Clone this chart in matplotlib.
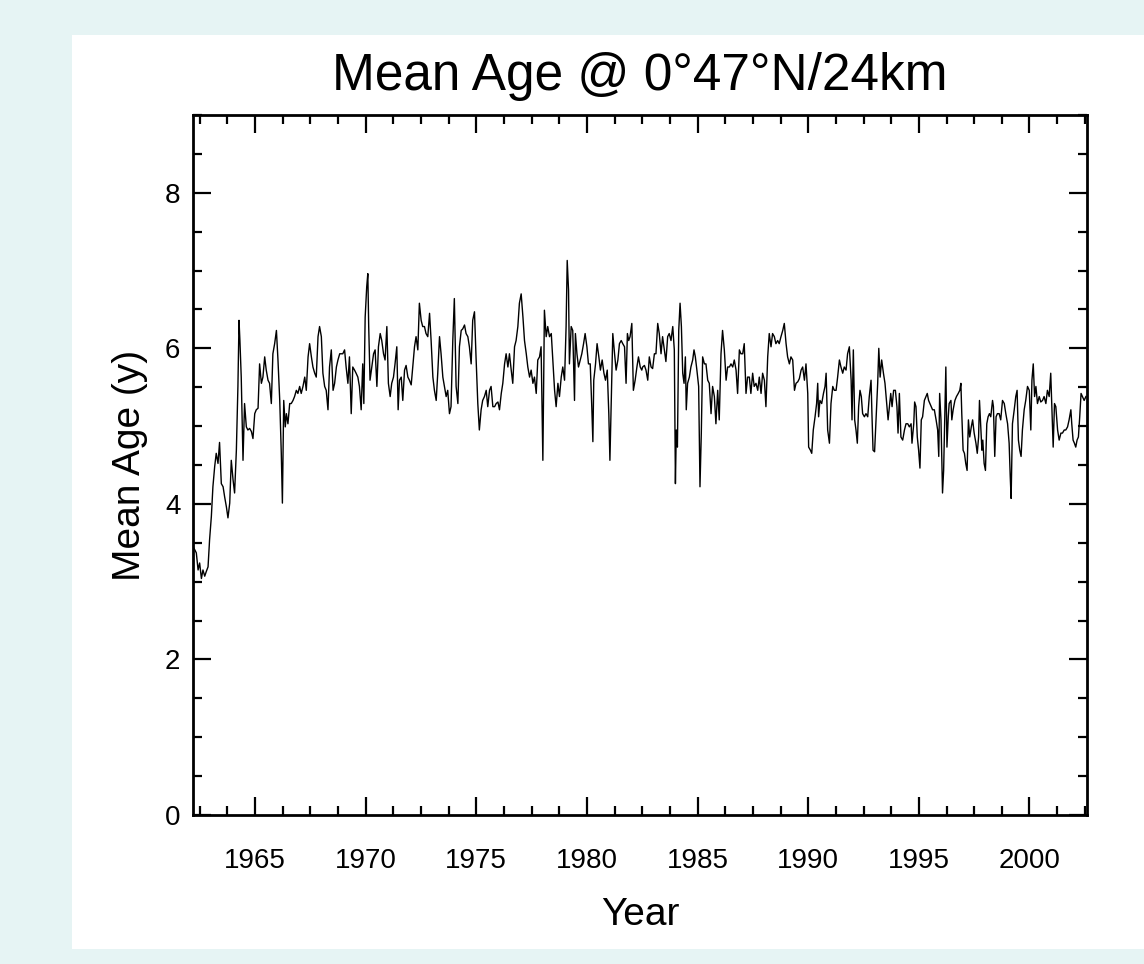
import numpy as np
import matplotlib
matplotlib.use('Agg')
import matplotlib.pyplot as plt
from matplotlib.patches import Rectangle
from matplotlib.ticker import MultipleLocator

plt.rcParams['font.family'] = ['Liberation Sans', 'DejaVu Sans']

### Mean age readings, split by stretch of years
years_1 = [1962.20, 1962.28, 1962.35, 1962.43, 1962.50, 1962.58, 1962.65, 1962.73, 1962.80, 1962.88,
           1962.95, 1963.03, 1963.10, 1963.18, 1963.25, 1963.33, 1963.40, 1963.48, 1963.56, 1963.63,
           1963.71, 1963.78, 1963.86, 1963.93, 1964.01, 1964.08, 1964.16, 1964.23, 1964.28, 1964.32,
           1964.38, 1964.46, 1964.53, 1964.61, 1964.68, 1964.76, 1964.84, 1964.91, 1964.99, 1965.06,
           1965.14, 1965.21, 1965.29, 1965.36, 1965.44, 1965.51, 1965.59, 1965.66, 1965.74, 1965.81,
           1965.89, 1965.97, 1966.04, 1966.12, 1966.19, 1966.24, 1966.30, 1966.37, 1966.42, 1966.49,
           1966.57, 1966.64, 1966.72, 1966.79, 1966.87, 1966.94, 1967.02, 1967.09, 1967.17, 1967.25,
           1967.32, 1967.40, 1967.47, 1967.55, 1967.62, 1967.70, 1967.77, 1967.85, 1967.92, 1968.00,
           1968.07, 1968.15, 1968.22, 1968.30, 1968.37, 1968.45, 1968.53, 1968.60, 1968.68, 1968.75,
           1968.83, 1968.90]
age_1 = [3.45, 3.41, 3.37, 3.15, 3.24, 3.04, 3.15, 3.07, 3.13, 3.19,
         3.54, 3.84, 4.22, 4.48, 4.65, 4.52, 4.79, 4.26, 4.22, 4.09,
         3.96, 3.82, 4.01, 4.56, 4.31, 4.14, 4.69, 5.51, 6.36, 6.10,
         5.63, 4.56, 5.29, 4.99, 4.95, 4.97, 4.93, 4.84, 5.16, 5.21,
         5.23, 5.80, 5.55, 5.63, 5.89, 5.72, 5.59, 5.55, 5.29, 5.93,
         6.06, 6.23, 5.85, 5.33, 4.65, 4.01, 5.33, 4.99, 5.16, 5.03,
         5.29, 5.29, 5.33, 5.38, 5.46, 5.42, 5.51, 5.42, 5.51, 5.63,
         5.46, 5.89, 6.06, 5.89, 5.76, 5.68, 5.63, 6.15, 6.28, 6.15,
         5.68, 5.51, 5.46, 5.21, 5.76, 5.98, 5.46, 5.55, 5.76, 5.85,
         5.93, 5.93]

years_2 = [1968.97, 1969.05, 1969.12, 1969.20, 1969.27, 1969.35, 1969.42, 1969.50, 1969.57, 1969.65,
           1969.72, 1969.80, 1969.87, 1969.92, 1969.98, 1970.05, 1970.10, 1970.14, 1970.20, 1970.28,
           1970.36, 1970.43, 1970.51, 1970.58, 1970.66, 1970.73, 1970.81, 1970.88, 1970.96, 1971.03,
           1971.11, 1971.18, 1971.26, 1971.33, 1971.41, 1971.47, 1971.53, 1971.61, 1971.68, 1971.76,
           1971.83, 1971.91, 1971.98, 1972.06, 1972.13, 1972.21, 1972.28, 1972.36, 1972.43, 1972.51,
           1972.58, 1972.66, 1972.73, 1972.81, 1972.89, 1972.96, 1973.04, 1973.11, 1973.19, 1973.26,
           1973.34, 1973.41, 1973.49, 1973.56, 1973.64, 1973.71, 1973.79, 1973.86, 1973.94, 1974.01,
           1974.09, 1974.17, 1974.24, 1974.32, 1974.39, 1974.47, 1974.54, 1974.62, 1974.69, 1974.77,
           1974.84, 1974.92, 1974.99, 1975.07, 1975.14, 1975.22, 1975.29, 1975.37, 1975.45, 1975.52,
           1975.60, 1975.67]
age_2 = [5.93, 5.98, 5.76, 5.55, 5.89, 5.16, 5.76, 5.72, 5.68, 5.63,
         5.51, 5.21, 5.80, 5.29, 6.40, 6.79, 6.96, 6.28, 5.59, 5.76,
         5.93, 5.98, 5.51, 6.02, 6.19, 6.10, 5.93, 5.85, 6.28, 5.55,
         5.38, 5.55, 5.63, 5.80, 6.02, 5.21, 5.59, 5.63, 5.33, 5.72,
         5.78, 5.63, 5.59, 5.53, 5.76, 6.02, 6.15, 5.98, 6.58, 6.36,
         6.28, 6.28, 6.19, 6.15, 6.45, 6.10, 5.63, 5.46, 5.33, 5.68,
         6.15, 5.93, 5.63, 5.51, 5.38, 5.46, 5.16, 5.25, 6.10, 6.64,
         5.51, 5.29, 6.02, 6.23, 6.25, 6.30, 6.19, 6.15, 6.02, 5.80,
         6.36, 6.47, 5.89, 5.29, 4.95, 5.21, 5.33, 5.38, 5.46, 5.25,
         5.46, 5.51]

years_3 = [1975.75, 1975.83, 1975.90, 1975.98, 1976.05, 1976.13, 1976.20, 1976.28, 1976.35, 1976.43,
           1976.50, 1976.58, 1976.65, 1976.73, 1976.80, 1976.88, 1976.95, 1977.03, 1977.11, 1977.18,
           1977.26, 1977.33, 1977.41, 1977.48, 1977.56, 1977.63, 1977.71, 1977.78, 1977.86, 1977.93,
           1978.01, 1978.08, 1978.16, 1978.23, 1978.31, 1978.39, 1978.46, 1978.54, 1978.61, 1978.69,
           1978.76, 1978.84, 1978.91, 1978.99, 1979.06, 1979.11, 1979.17, 1979.21, 1979.29, 1979.36,
           1979.44, 1979.48, 1979.55, 1979.62, 1979.70, 1979.77, 1979.85, 1979.92, 1980.00, 1980.07,
           1980.15, 1980.22, 1980.27, 1980.31, 1980.39, 1980.46, 1980.54, 1980.61, 1980.69, 1980.77,
           1980.84, 1980.92, 1980.99, 1981.04, 1981.10, 1981.17, 1981.25, 1981.32, 1981.40, 1981.47,
           1981.55, 1981.62, 1981.70, 1981.77, 1981.83, 1981.89, 1981.95, 1982.03, 1982.10, 1982.18,
           1982.26, 1982.33, 1982.41, 1982.48]
age_3 = [5.25, 5.25, 5.29, 5.31, 5.21, 5.42, 5.55, 5.80, 5.93, 5.76,
         5.93, 5.72, 5.55, 6.02, 6.10, 6.28, 6.58, 6.70, 6.40, 6.10,
         5.93, 5.76, 5.63, 5.72, 5.55, 5.63, 5.42, 5.85, 5.89, 6.02,
         4.56, 6.49, 6.15, 6.28, 6.15, 6.19, 5.85, 5.46, 5.25, 5.55,
         5.38, 5.63, 5.76, 5.59, 6.28, 7.13, 6.75, 5.80, 6.28, 6.23,
         5.33, 6.19, 5.93, 5.76, 5.85, 5.93, 6.06, 6.19, 6.02, 5.80,
         5.80, 5.25, 4.80, 5.59, 5.80, 6.06, 5.89, 5.72, 5.85, 5.68,
         5.59, 5.72, 5.16, 4.56, 5.33, 6.19, 5.93, 5.72, 5.85, 6.06,
         6.10, 6.06, 6.02, 5.55, 6.19, 6.10, 6.15, 6.32, 5.46, 5.59,
         5.76, 5.89, 5.76, 5.72]

years_4 = [1982.52, 1982.60, 1982.67, 1982.75, 1982.82, 1982.90, 1982.97, 1983.05, 1983.12, 1983.20,
           1983.27, 1983.35, 1983.42, 1983.50, 1983.57, 1983.65, 1983.72, 1983.80, 1983.88, 1983.95,
           1984.00, 1984.04, 1984.09, 1984.15, 1984.21, 1984.27, 1984.33, 1984.39, 1984.45, 1984.49,
           1984.55, 1984.63, 1984.70, 1984.78, 1984.84, 1984.90, 1984.97, 1985.05, 1985.11, 1985.17,
           1985.23, 1985.31, 1985.38, 1985.46, 1985.53, 1985.61, 1985.68, 1985.76, 1985.83, 1985.91,
           1985.98, 1986.06, 1986.13, 1986.21, 1986.29, 1986.36, 1986.44, 1986.51, 1986.59, 1986.66,
           1986.74, 1986.81, 1986.89, 1986.96, 1987.04, 1987.11, 1987.19, 1987.26, 1987.34, 1987.41,
           1987.49, 1987.56, 1987.64, 1987.72, 1987.79, 1987.87, 1987.94, 1988.02, 1988.09, 1988.17,
           1988.24, 1988.32, 1988.39, 1988.47, 1988.54, 1988.62, 1988.69, 1988.77, 1988.85, 1988.92,
           1989.00, 1989.07, 1989.15, 1989.22]
age_4 = [5.76, 5.78, 5.72, 5.59, 5.89, 5.76, 5.74, 5.93, 5.93, 6.32,
         6.19, 5.93, 6.15, 5.98, 5.83, 6.15, 6.19, 6.10, 6.28, 5.98,
         4.26, 4.95, 4.73, 6.23, 6.58, 6.28, 5.68, 5.55, 5.89, 5.21,
         5.55, 5.63, 5.76, 5.85, 5.98, 5.89, 5.72, 5.51, 4.22, 4.91,
         5.89, 5.80, 5.80, 5.59, 5.55, 5.16, 5.51, 5.38, 5.03, 5.46,
         5.08, 5.93, 6.23, 5.98, 5.59, 5.76, 5.76, 5.80, 5.76, 5.85,
         5.72, 5.42, 5.98, 5.93, 5.93, 6.06, 5.42, 5.63, 5.63, 5.42,
         5.68, 5.51, 5.55, 5.46, 5.63, 5.42, 5.68, 5.59, 5.25, 5.89,
         6.19, 6.02, 6.19, 6.15, 6.06, 6.10, 6.06, 6.15, 6.23, 6.32,
         6.06, 5.89, 5.80, 5.89]

years_5 = [1989.30, 1989.38, 1989.45, 1989.53, 1989.60, 1989.68, 1989.75, 1989.83, 1989.90, 1989.98,
           1990.02, 1990.10, 1990.16, 1990.23, 1990.31, 1990.38, 1990.43, 1990.47, 1990.53, 1990.61,
           1990.69, 1990.76, 1990.81, 1990.88, 1990.96, 1991.03, 1991.11, 1991.18, 1991.26, 1991.33,
           1991.41, 1991.48, 1991.56, 1991.63, 1991.71, 1991.78, 1991.86, 1991.94, 1991.98, 1992.04,
           1992.10, 1992.16, 1992.22, 1992.28, 1992.34, 1992.40, 1992.46, 1992.54, 1992.61, 1992.69,
           1992.76, 1992.84, 1992.88, 1992.93, 1993.00, 1993.07, 1993.14, 1993.19, 1993.25, 1993.32,
           1993.40, 1993.47, 1993.55, 1993.61, 1993.67, 1993.73, 1993.79, 1993.86, 1993.94, 1994.01,
           1994.06, 1994.12, 1994.19, 1994.27, 1994.35, 1994.42, 1994.50, 1994.57, 1994.65, 1994.69,
           1994.77, 1994.81, 1994.87, 1994.93, 1994.99, 1995.05, 1995.11, 1995.17, 1995.25, 1995.32,
           1995.38, 1995.44, 1995.50, 1995.56, 1995.62, 1995.70, 1995.78, 1995.85, 1995.90, 1995.94,
           1996.00]
age_5 = [5.85, 5.46, 5.55, 5.57, 5.61, 5.72, 5.76, 5.59, 5.80, 5.42,
         4.73, 4.69, 4.65, 4.95, 5.12, 5.29, 5.55, 5.12, 5.33, 5.29,
         5.42, 5.51, 5.68, 4.95, 4.78, 5.29, 5.51, 5.46, 5.46, 5.63,
         5.85, 5.76, 5.68, 5.76, 5.72, 5.93, 6.02, 5.59, 5.08, 5.98,
         5.08, 4.95, 4.78, 5.25, 5.46, 5.38, 5.16, 5.12, 5.16, 5.12,
         5.38, 5.59, 5.16, 4.69, 4.67, 5.12, 5.55, 6.00, 5.63, 5.85,
         5.68, 5.55, 5.29, 5.08, 5.25, 5.42, 5.25, 5.46, 5.46, 5.25,
         4.91, 5.42, 4.86, 4.82, 4.95, 5.03, 5.03, 4.99, 5.03, 4.78,
         5.03, 5.31, 5.25, 4.86, 4.69, 4.46, 5.08, 5.12, 5.33, 5.38,
         5.42, 5.33, 5.29, 5.25, 5.21, 5.21, 5.08, 4.95, 4.61, 5.42,
         5.08]

years_6 = [1996.07, 1996.12, 1996.18, 1996.22, 1996.27, 1996.33, 1996.37, 1996.45, 1996.49, 1996.55,
           1996.63, 1996.70, 1996.78, 1996.85, 1996.90, 1996.94, 1997.00, 1997.06, 1997.12, 1997.18,
           1997.24, 1997.30, 1997.37, 1997.43, 1997.50, 1997.58, 1997.64, 1997.70, 1997.74, 1997.79,
           1997.85, 1997.89, 1997.95, 1998.01, 1998.07, 1998.13, 1998.19, 1998.25, 1998.33, 1998.37,
           1998.43, 1998.49, 1998.55, 1998.63, 1998.70, 1998.78, 1998.86, 1998.93, 1999.01, 1999.08,
           1999.13, 1999.17, 1999.23, 1999.31, 1999.38, 1999.44, 1999.50, 1999.56, 1999.62, 1999.68,
           1999.76, 1999.83, 1999.91, 1999.99, 2000.06, 2000.11, 2000.17, 2000.23, 2000.29, 2000.36,
           2000.44, 2000.51, 2000.59, 2000.66, 2000.74, 2000.81, 2000.89, 2000.96, 2001.01, 2001.07,
           2001.13, 2001.19, 2001.27, 2001.34, 2001.42, 2001.49, 2001.57, 2001.64, 2001.72, 2001.79,
           2001.87, 2001.91, 2001.97, 2002.03, 2002.09, 2002.15, 2002.21, 2002.27, 2002.33, 2002.39,
           2002.47, 2002.55]
age_6 = [4.14, 4.43, 5.21, 5.76, 4.73, 5.12, 5.29, 5.33, 5.08, 5.21,
         5.33, 5.38, 5.42, 5.46, 5.55, 5.16, 4.69, 4.65, 4.52, 4.43,
         5.08, 4.86, 4.99, 5.08, 4.91, 4.78, 4.65, 4.86, 5.33, 5.03,
         4.69, 4.82, 4.52, 4.43, 5.03, 5.12, 5.16, 5.12, 5.33, 5.25,
         4.61, 5.12, 5.16, 5.16, 5.08, 5.33, 5.29, 5.16, 5.03, 4.78,
         4.35, 4.07, 5.03, 5.21, 5.38, 5.46, 4.82, 4.69, 4.61, 4.95,
         5.21, 5.33, 5.51, 5.46, 4.95, 5.59, 5.80, 5.38, 5.51, 5.29,
         5.38, 5.31, 5.33, 5.38, 5.29, 5.46, 5.38, 5.68, 5.25, 4.73,
         5.29, 5.25, 4.95, 4.82, 4.91, 4.91, 4.95, 4.95, 4.99, 5.08,
         5.21, 5.03, 4.82, 4.78, 4.73, 4.82, 4.86, 5.12, 5.42, 5.38,
         5.33, 5.38]

years = years_1 + years_2 + years_3 + years_4 + years_5 + years_6
mean_age = age_1 + age_2 + age_3 + age_4 + age_5 + age_6

### Figure with cyan border and white panel
fig = plt.figure(figsize=(11.44, 9.64), dpi=100)
fig.patch.set_facecolor('#e6f4f4')
panel = Rectangle((0.0629, 0.0156), 0.9371, 0.948, transform=fig.transFigure,
                  facecolor='white', edgecolor='none', zorder=-10)
fig.add_artist(panel)

ax = fig.add_axes([0.1687, 0.1546, 0.7815, 0.7261])
ax.set_zorder(1)
ax.plot(years, mean_age, color='black', linewidth=1.0)

ax.set_xlim(1962.2, 2002.6)
ax.set_ylim(0, 9)
ax.xaxis.set_major_locator(MultipleLocator(5))
ax.xaxis.set_minor_locator(MultipleLocator(1.25))
ax.yaxis.set_major_locator(MultipleLocator(2))
ax.yaxis.set_minor_locator(MultipleLocator(0.5))

ax.tick_params(which='both', direction='in', top=True, right=True, width=1.6, colors='black')
ax.tick_params(which='major', length=13)
ax.tick_params(which='minor', length=6.5)
ax.tick_params(axis='x', which='major', labelsize=20, pad=24)
ax.tick_params(axis='y', which='major', labelsize=20, pad=9)
for spine in ax.spines.values():
    spine.set_linewidth(2)

ax.set_title('Mean Age @ 0°47°N/24km', fontsize=37, pad=18)
ax.set_xlabel('Year', fontsize=28, labelpad=16)
ax.set_ylabel('Mean Age (y)', fontsize=28, labelpad=12)

plt.savefig('out.png', dpi=100, facecolor=fig.get_facecolor())
